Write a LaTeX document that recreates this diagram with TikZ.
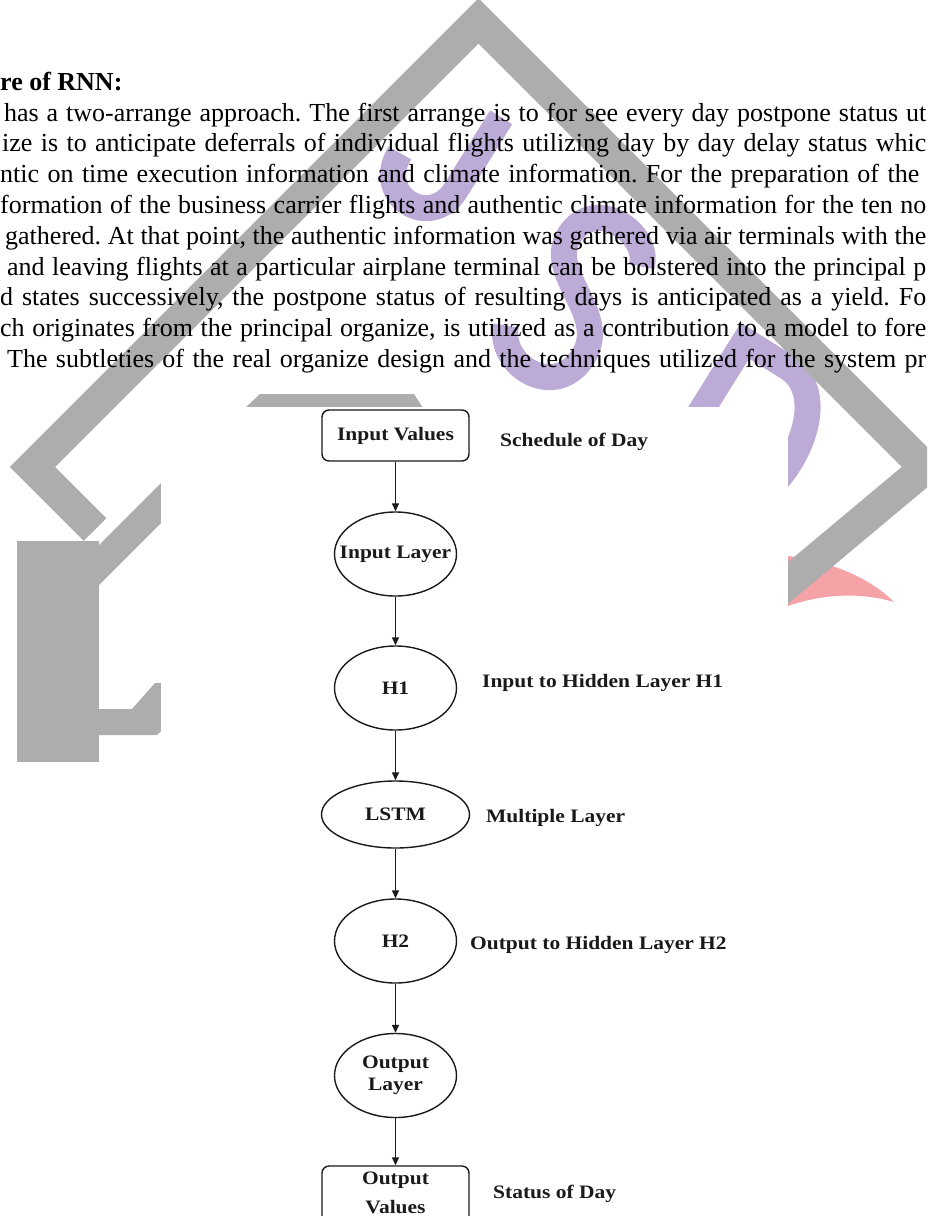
\documentclass[tikz,border=0pt]{standalone}
\usepackage{fontspec}
\setmainfont{Liberation Serif}
\newfontfamily\dfont[FakeStretch=1.13]{Liberation Serif}
\usetikzlibrary{shapes.geometric,arrows.meta}
\definecolor{wmgray}{HTML}{ADADAD}
\definecolor{lav}{HTML}{BCABD6}
\definecolor{pinkc}{HTML}{F5A3A6}
\definecolor{ink}{HTML}{1A1A1A}
\frenchspacing
\tikzset{
  bodyline/.style={anchor=base west, inner sep=0pt, font=\fontsize{26}{30}\selectfont},
  blk/.style={draw=ink, line width=1.4pt},
  dtext/.style={font=\dfont\bfseries\fontsize{19}{22}\selectfont, text=ink},
  boxnode/.style={blk, dtext, rectangle, rounded corners=7pt, minimum width=147pt, minimum height=51pt, inner sep=0pt},
  ellnode/.style={blk, dtext, ellipse, minimum width=122pt, minimum height=84pt, inner sep=0pt},
  flow/.style={line width=1.4pt, draw=ink, -{Triangle[length=8pt,width=7pt]}},
  lbl/.style={dtext, anchor=base west, inner sep=0pt},
  lavstroke/.style={draw=lav, line width=26pt},
}
\begin{document}
\begin{tikzpicture}[x=1pt,y=-1pt]
\useasboundingbox (0,0) rectangle (927,1216);
\clip (0,0) rectangle (927,1216);
% ---------- watermark ----------
\begin{scope}[shift={(445,160)}, rotate=-32]
  \draw[lavstroke] (25,-66) -- (25,20) .. controls (25,68) and (-42,68) .. (-42,18);
\end{scope}
\begin{scope}[shift={(575,298)}, rotate=-32]
  \draw[lavstroke] (40,-62) .. controls (30,-95) and (-38,-98) .. (-38,-50) .. controls (-38,-5) and (38,-5) .. (38,45) .. controls (38,98) and (-30,98) .. (-44,60);
\end{scope}
\begin{scope}[shift={(745,435)}, rotate=-32]
  \draw[lavstroke] (-50,-80) -- (-50,80) -- (0,80) .. controls (70,80) and (70,-80) .. (0,-80) -- cycle;
\end{scope}
\fill[pinkc] (788,556) .. controls (835,562) and (872,580) .. (894,602) .. controls (860,592) and (822,594) .. (788,606) -- cycle;
\draw[wmgray, line width=32pt, line join=miter] (95,529.5) -- (32.6,467) -- (478.5,21) -- (925.4,468) -- (770,598);
\fill[wmgray] (17,541) rectangle (99,762);
\fill[wmgray] (99,545) -- (165,479) -- (165,519) -- (99,585) -- cycle;
\fill[wmgray] (99,709) -- (132,709) -- (155,683) -- (165,683) -- (165,727) -- (157,735) -- (99,735) -- cycle;
\fill[wmgray] (260,394) -- (414,394) -- (423,408) -- (245,408) -- cycle;
% ---------- body text ----------
\node[anchor=base west, inner sep=0pt, font=\bfseries\fontsize{26}{30}\selectfont] (head) at (0,90) {re of RNN:};
\node[bodyline] (l1) at (4,121) {\makebox[922pt][s]{has a two-arrange approach. The first arrange is to for see every day postpone status ut}};
\node[bodyline] (l2) at (2,151.8) {\makebox[924pt][s]{ize is to anticipate deferrals of individual flights utilizing day by day delay status whic}};
\node[bodyline] (l3) at (0,182.6) {\makebox[919pt][s]{ntic on time execution information and climate information. For the preparation of the}};
\node[bodyline] (l4) at (0,213.4) {\makebox[926pt][s]{formation of the business carrier flights and authentic climate information for the ten no}};
\node[bodyline] (l5) at (5,244.2) {\makebox[921pt][s]{gathered. At that point, the authentic information was gathered via air terminals with the}};
\node[bodyline] (l6) at (7,275) {\makebox[919pt][s]{and leaving flights at a particular airplane terminal can be bolstered into the principal p}};
\node[bodyline] (l7) at (0,305.8) {\makebox[926pt][s]{d states successively, the postpone status of resulting days is anticipated as a yield. Fo}};
\node[bodyline] (l8) at (0,336.6) {\makebox[926pt][s]{ch originates from the principal organize, is utilized as a contribution to a model to fore}};
\node[bodyline] (l9) at (7,367.4) {\makebox[919pt][s]{The subtleties of the real organize design and the techniques utilized for the system pr}};
% ---------- diagram ----------
\fill[white] (161,407) rectangle (788,1220);
\node[boxnode] (iv) at (395.5,435.5) {Input Values};
\node[ellnode] (il) at (395.5,554) {\makebox[0pt]{Input Layer}};
\node[ellnode] (h1) at (395.5,688) {\makebox[0pt]{H1}};
\node[ellnode, minimum width=148pt, minimum height=67pt] (lstm) at (395.5,814.5) {\makebox[0pt]{LSTM}};
\node[ellnode] (h2) at (395.5,941) {\makebox[0pt]{H2}};
\node[ellnode] (ol) at (395.5,1075.5) {\makebox[0pt]{\begin{tabular}{@{}c@{}}Output\\Layer\end{tabular}}};
\node[boxnode, minimum height=58pt] (ov) at (395.5,1195) {\begin{tabular}{@{}c@{}}Output\\[7pt]Values\end{tabular}};
\draw[flow] (iv.south) -- (il.north);
\draw[flow] (il.south) -- (h1.north);
\draw[flow] (h1.south) -- (lstm.north);
\draw[flow] (lstm.south) -- (h2.north);
\draw[flow] (h2.south) -- (ol.north);
\draw[flow] (ol.south) -- (ov.north);
\node[lbl] (sd) at (500,446) {Schedule of Day};
\node[lbl] (ih) at (482,687) {Input to Hidden Layer H1};
\node[lbl] (ml) at (486,822) {Multiple Layer};
\node[lbl] (oh) at (470,949) {Output to Hidden Layer H2};
\node[lbl] (st) at (493,1198) {Status of Day};
\end{tikzpicture}
\end{document}
